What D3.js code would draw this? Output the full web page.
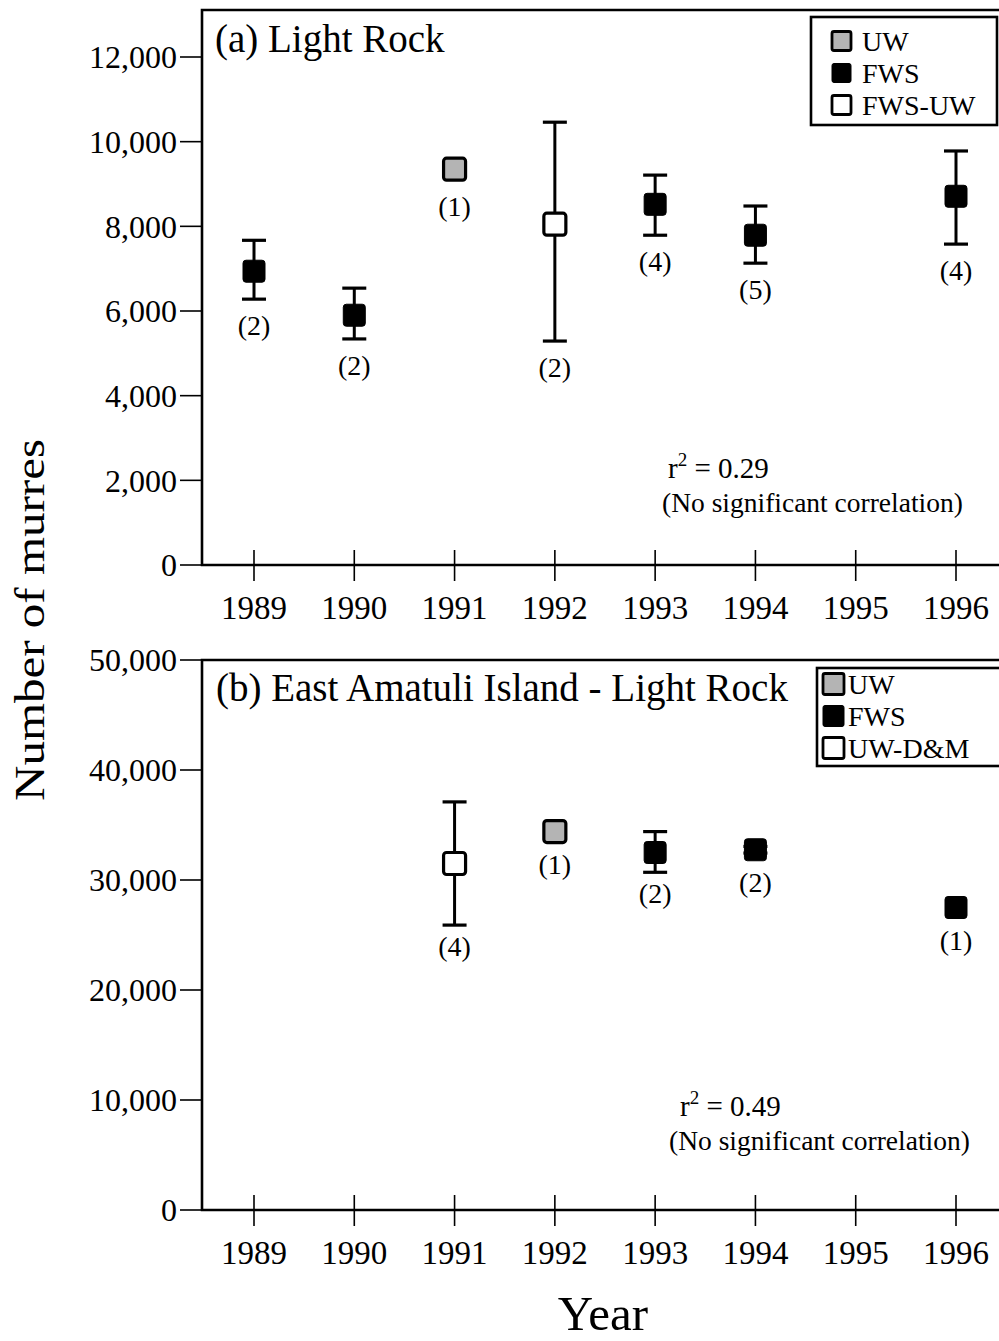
<!DOCTYPE html>
<html><head><meta charset="utf-8">
<script src="https://cdn.jsdelivr.net/npm/d3@7"></script>
<style>
html,body{margin:0;padding:0;background:#fff;}
svg{display:block;font-family:"Liberation Serif","DejaVu Serif",serif;}
</style></head>
<body>
<svg id="chart" width="999" height="1341"></svg>
<script>
// ---- Data ----
const yearTicks = [1989,1990,1991,1992,1993,1994,1995,1996];

// Panel (a) Light Rock
const yearsA  = [1989, 1990, 1991, 1992, 1993, 1994, 1996];
const meanA   = [6940, 5900, 9350, 8050, 8520, 7790, 8710];
const upperA  = [7670, 6540, null, 10460, 9210, 8480, 9780];
const lowerA  = [6280, 5340, null, 5290, 7790, 7130, 7580];
const countA  = [2, 2, 1, 2, 4, 5, 4];
const sourceA = ["FWS","FWS","UW","FWS-UW","FWS","FWS","FWS"];
const yTicksA = [0,2000,4000,6000,8000,10000,12000];
const legendA = ["UW","FWS","FWS-UW"];

// Panel (b) East Amatuli Island - Light Rock
const yearsB  = [1991, 1992, 1993, 1994, 1996];
const meanB   = [31500, 34400, 32500, 32750, 27500];
const upperB  = [37100, null, 34400, 33050, null];
const lowerB  = [25900, null, 30700, 32450, null];
const countB  = [4, 1, 2, 2, 1];
const sourceB = ["UW-D&M","UW","FWS","FWS","FWS"];
const yTicksB = [0,10000,20000,30000,40000,50000];
const legendB = ["UW","FWS","UW-D&M"];

// ---- Drawing ----
const svg = d3.select("#chart");
const fmt = d3.format(",");
const fillFor = s => s === "FWS" ? "#000" : (s === "UW" ? "#b4b4b4" : "#fff");

const x = d3.scaleLinear().domain([1989,1996]).range([254,956]);

function panel(cfg){
  const g = svg.append("g");
  const y = cfg.y;
  const y0 = y(0), yTop = cfg.frameTop;
  // frame
  g.append("path")
    .attr("d", `M1003,${yTop}H202V${y0}H1003`)
    .attr("fill","none").attr("stroke","#000").attr("stroke-width",2.6);
  // y ticks
  const yt = g.selectAll(".yt").data(cfg.yTicks).enter().append("g");
  yt.append("line").attr("x1",180).attr("x2",202)
    .attr("y1",d=>y(d)).attr("y2",d=>y(d)).attr("stroke","#000").attr("stroke-width",1.6);
  yt.append("text").attr("x",177).attr("y",d=>y(d)).attr("dy","0.35em")
    .attr("text-anchor","end").attr("font-size",32).text(d=>fmt(d));
  // x ticks
  const xt = g.selectAll(".xt").data(yearTicks).enter().append("g");
  xt.append("line").attr("x1",d=>x(d)).attr("x2",d=>x(d))
    .attr("y1",y0-15).attr("y2",y0+16).attr("stroke","#000").attr("stroke-width",1.6);
  xt.append("text").attr("x",d=>x(d)).attr("y",y0+54)
    .attr("text-anchor","middle").attr("font-size",33).text(d=>d);
  // title
  g.append("text").attr("x",cfg.titleX).attr("y",cfg.titleY).attr("font-size",39).text(cfg.title);
  // data
  const data = cfg.years.map((yr,i)=>({yr, m:cfg.mean[i], hi:cfg.upper[i], lo:cfg.lower[i], n:cfg.count[i], s:cfg.source[i]}));
  const pts = g.selectAll(".pt").data(data).enter().append("g");
  const eb = pts.filter(d=>d.hi!=null);
  eb.append("line").attr("x1",d=>x(d.yr)).attr("x2",d=>x(d.yr))
    .attr("y1",d=>y(d.hi)).attr("y2",d=>y(d.lo)).attr("stroke","#000").attr("stroke-width",3);
  ["hi","lo"].forEach(k=>{
    eb.append("line").attr("x1",d=>x(d.yr)-12).attr("x2",d=>x(d.yr)+12)
      .attr("y1",d=>y(d[k])).attr("y2",d=>y(d[k])).attr("stroke","#000").attr("stroke-width",3.2);
  });
  const sz = 22;
  pts.append("rect").attr("x",d=>x(d.yr)-sz/2).attr("y",d=>y(d.m)-sz/2)
    .attr("width",sz).attr("height",sz).attr("rx",3)
    .attr("fill",d=>fillFor(d.s)).attr("stroke","#000").attr("stroke-width",d=>d.s==="FWS"?1:3.2);
  pts.append("text").attr("x",d=>x(d.yr))
    .attr("y",d=>Math.max(d.lo!=null?y(d.lo):0, y(d.m)+sz/2) + cfg.countOff)
    .attr("text-anchor","middle").attr("font-size",28).text(d=>`(${d.n})`);
  // r^2 annotation
  const r = g.append("text").attr("x",cfg.rX).attr("y",cfg.rY).attr("font-size",29);
  r.append("tspan").text("r");
  r.append("tspan").attr("dy",-12).attr("font-size",19).text("2");
  r.append("tspan").attr("dy",12).text(" = " + cfg.r2);
  g.append("text").attr("x",cfg.ncX).attr("y",cfg.rY+34).attr("font-size",27.5)
    .text("(No significant correlation)");
  // legend
  const L = cfg.legend;
  g.append("rect").attr("x",L.x).attr("y",L.y).attr("width",L.w).attr("height",L.h)
    .attr("fill","#fff").attr("stroke","#000").attr("stroke-width",2.6);
  const li = g.selectAll(".lg").data(cfg.legendItems).enter().append("g");
  li.append("rect").attr("x",L.sx).attr("y",(d,i)=>L.y+L.row0+i*L.dy-L.ss/2)
    .attr("width",L.ss).attr("height",L.ss).attr("rx",2)
    .attr("fill",d=>fillFor(d)).attr("stroke","#000").attr("stroke-width",d=>d==="FWS"?1:2.8);
  li.append("text").attr("x",L.tx).attr("y",(d,i)=>L.y+L.row0+i*L.dy).attr("dy","0.35em")
    .attr("font-size",28).text(d=>d);
}

panel({
  y: d3.scaleLinear().domain([0,12000]).range([565,57]),
  frameTop: 10, yTicks: yTicksA,
  years: yearsA, mean: meanA, upper: upperA, lower: lowerA, count: countA, source: sourceA,
  title: "(a) Light Rock", titleX: 215, titleY: 52,
  countOff: 36, r2: "0.29", rX: 668, rY: 478, ncX: 662,
  legend: {x:811, y:17, w:186, h:108, row0:24, dy:32, sx:832, ss:19, tx:862},
  legendItems: legendA
});

panel({
  y: d3.scaleLinear().domain([0,50000]).range([1210,660]),
  frameTop: 660, yTicks: yTicksB,
  years: yearsB, mean: meanB, upper: upperB, lower: lowerB, count: countB, source: sourceB,
  title: "(b) East Amatuli Island - Light Rock", titleX: 216, titleY: 701,
  countOff: 31, r2: "0.49", rX: 680, rY: 1116, ncX: 669,
  legend: {x:817, y:668, w:186, h:98, row0:16, dy:32, sx:823, ss:21, tx:848},
  legendItems: legendB
});

// axis titles
svg.append("text").attr("transform","translate(44,620) rotate(-90)")
  .attr("text-anchor","middle").attr("font-size",42)
  .attr("textLength",362).attr("lengthAdjust","spacingAndGlyphs")
  .text("Number of murres");
svg.append("text").attr("x",603).attr("y",1330).attr("text-anchor","middle")
  .attr("font-size",49).text("Year");
</script>
</body></html>
